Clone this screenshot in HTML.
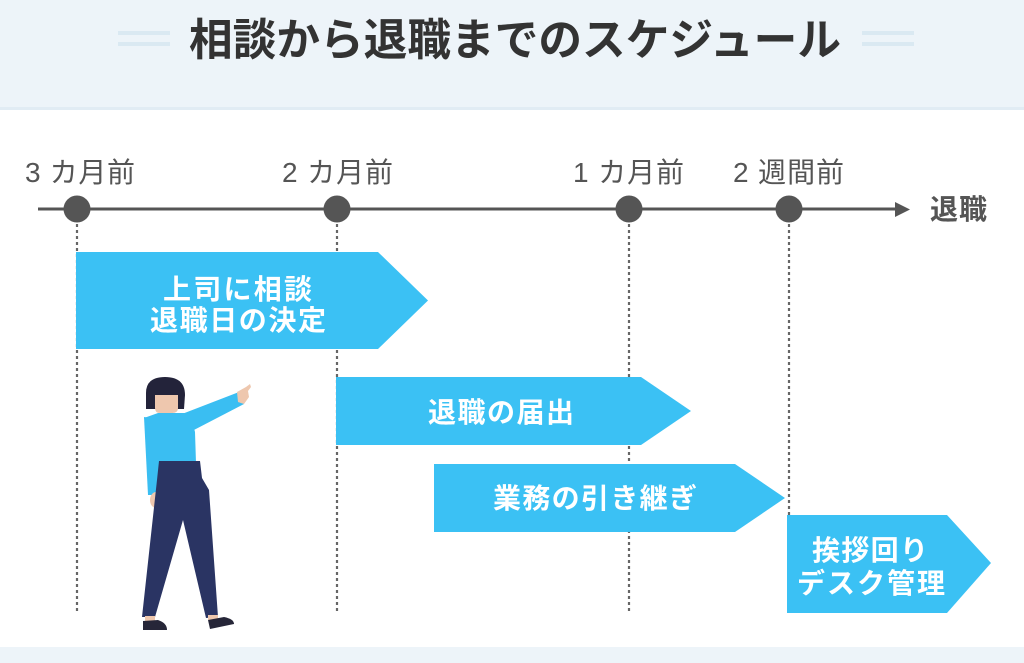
<!DOCTYPE html>
<html>
<head>
<meta charset="utf-8">
<style>
  html,body{margin:0;padding:0;background:#fff;}
  body{width:1024px;height:663px;overflow:hidden;}
  svg{display:block;}
  text{font-family:"Liberation Sans","Noto Sans CJK JP",sans-serif;}
</style>
</head>
<body>
<svg width="1024" height="663" viewBox="0 0 1024 663" xmlns="http://www.w3.org/2000/svg">
  <!-- header -->
  <rect x="0" y="0" width="1024" height="108" fill="#EDF4F9"/>
  <rect x="0" y="107" width="1024" height="3" fill="#E1ECF4"/>
  <rect x="118" y="31" width="52" height="4" fill="#DAE9F2"/>
  <rect x="118" y="42" width="52" height="4" fill="#DAE9F2"/>
  <rect x="862" y="31" width="52" height="4" fill="#DAE9F2"/>
  <rect x="862" y="42" width="52" height="4" fill="#DAE9F2"/>
  <text x="189" y="55" font-size="44" font-weight="bold" fill="#333" textLength="652" lengthAdjust="spacingAndGlyphs">相談から退職までのスケジュール</text>

  <!-- bottom band -->
  <rect x="0" y="647" width="1024" height="16" fill="#EDF4F9"/>

  <!-- timeline labels -->
  <g font-size="28" fill="#555">
    <text x="25" y="182" textLength="110" lengthAdjust="spacing">3 カ月前</text>
    <text x="282" y="182" textLength="111" lengthAdjust="spacing">2 カ月前</text>
    <text x="573" y="182" textLength="111" lengthAdjust="spacing">1 カ月前</text>
    <text x="733" y="182" textLength="111" lengthAdjust="spacing">2 週間前</text>
  </g>
  <text x="930" y="219" font-size="28" font-weight="bold" fill="#555" textLength="57" lengthAdjust="spacing">退職</text>

  <!-- dotted verticals -->
  <g stroke="#666" stroke-width="2.2" stroke-dasharray="3 3">
    <line x1="77" y1="224" x2="77" y2="613"/>
    <line x1="337" y1="224" x2="337" y2="613"/>
    <line x1="629" y1="224" x2="629" y2="613"/>
    <line x1="789" y1="224" x2="789" y2="613"/>
  </g>

  <!-- timeline -->
  <line x1="38" y1="209" x2="897" y2="209" stroke="#555" stroke-width="3"/>
  <polygon points="895,202 910,209.5 895,217" fill="#555"/>
  <g fill="#555">
    <circle cx="77" cy="209" r="13.5"/>
    <circle cx="337" cy="209" r="13.5"/>
    <circle cx="629" cy="209" r="13.5"/>
    <circle cx="789" cy="209" r="13.5"/>
  </g>

  <!-- chevrons -->
  <g fill="#3BC1F4">
    <polygon points="76,252 378,252 428,300.5 378,349 76,349"/>
    <polygon points="336,377 641,377 691,411 641,445 336,445"/>
    <polygon points="434,464 735,464 785,498 735,532 434,532"/>
    <polygon points="787,515 947,515 991,563 947,613 787,613"/>
  </g>
  <g font-size="28" font-weight="bold" fill="#fff">
    <text x="163" y="299" textLength="149" lengthAdjust="spacing">上司に相談</text>
    <text x="150" y="330" textLength="176" lengthAdjust="spacing">退職日の決定</text>
    <text x="428" y="422" textLength="146" lengthAdjust="spacing">退職の届出</text>
    <text x="493" y="508" textLength="204" lengthAdjust="spacing">業務の引き継ぎ</text>
    <text x="812" y="560" textLength="116" lengthAdjust="spacing">挨拶回り</text>
    <text x="797" y="593" textLength="148" lengthAdjust="spacing">デスク管理</text>
  </g>

  <!-- woman figure -->
  <g>
    <polygon points="182,414 239,392 244,404 192,431" fill="#3ABEF2"/>
    <path d="M237,392 L246,387 L250,384 L251,387 L248,391 L249,397 L244,404 L238,402 Z" fill="#EEC7AE"/>
    <polygon points="144,417 158,419 160,495 148,495" fill="#3ABEF2"/>
    <ellipse cx="156" cy="500" rx="6" ry="8" fill="#EEC7AE"/>
    <rect x="162" y="406" width="11" height="11" fill="#EEC7AE"/>
    <path d="M144,418 L158,413 L190,413 L195,432 L196,463 L159,464 L156,440 Z" fill="#3ABEF2"/>
    <path d="M146,409 L146,393 Q146,377 165,377 Q185,377 185,395 L184,409 Z" fill="#23233A"/>
    <path d="M155,395 L178,395 L178,408 Q178,413 172,413 L160,413 Q155,413 155,408 Z" fill="#EEC7AE"/>
    <polygon points="159,461 200,461 202,478 209,490 218,617 206,618 183,520 155,617 142,617 157,480" fill="#2A3463"/>
    <rect x="145" y="616" width="10" height="5" fill="#EEC7AE"/>
    <rect x="208" y="615" width="10" height="5" fill="#EEC7AE"/>
    <path d="M143,621 L158,620 Q167,623 167,630 L143,630 Z" fill="#262638"/>
    <path d="M208,620 L224,617 Q234,619 234,624 L210,629 Z" fill="#262638"/>
  </g>
</svg>
</body>
</html>
